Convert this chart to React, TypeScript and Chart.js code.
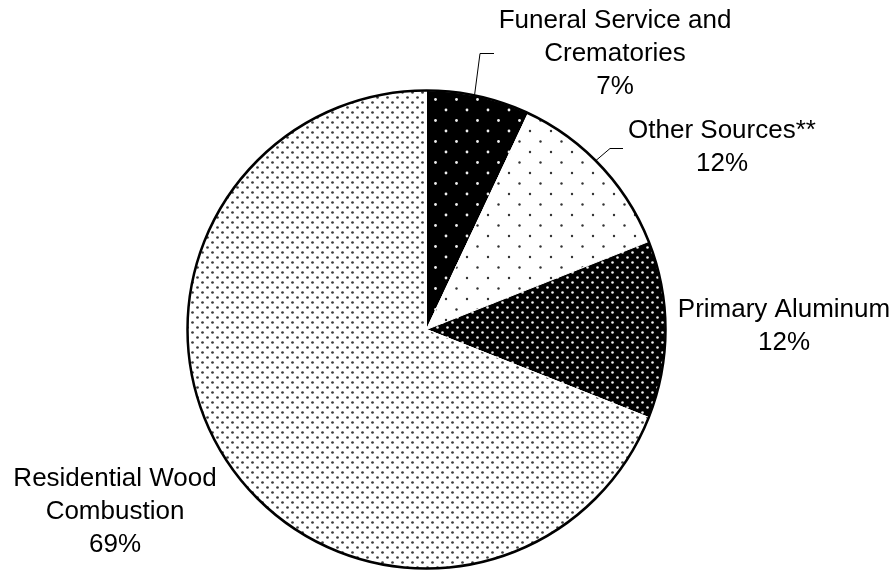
import React, { useEffect, useRef } from "react";
import { Chart, registerables } from "chart.js";

Chart.register(...registerables);

// ---- data ----
const categories = [
  "Funeral Service and Crematories",
  "Other Sources**",
  "Primary Aluminum",
  "Residential Wood Combustion",
];
const shares = [7, 12, 12, 69];
const labelLines = [
  ["Funeral Service and", "Crematories"],
  ["Other Sources**"],
  ["Primary Aluminum"],
  ["Residential Wood", "Combustion"],
];

// ---- label layout (annotation placement, not data) ----
const labelCenterX = [615, 722, 784, 115];
const labelFirstY = [21, 131, 310, 479];
const LINE_H = 33;
const FONT = "26px 'Liberation Sans', Arial, sans-serif";

function makePattern(
  size: number,
  bg: string,
  dot: string,
  r: number,
  pts: [number, number][]
): CanvasPattern | string {
  const c = document.createElement("canvas");
  c.width = size;
  c.height = size;
  const g = c.getContext("2d");
  if (!g) return bg;
  g.fillStyle = bg;
  g.fillRect(0, 0, size, size);
  g.fillStyle = dot;
  for (const [x, y] of pts) {
    g.beginPath();
    g.arc(x, y, r, 0, Math.PI * 2);
    g.fill();
  }
  const ctx = document.createElement("canvas").getContext("2d")!;
  return ctx.createPattern(c, "repeat") || bg;
}

const outlinePlugin = {
  id: "outline",
  afterDatasetsDraw(chart: any) {
    const meta = chart.getDatasetMeta(0);
    const a = meta.data[0];
    if (!a) return;
    const { x, y, outerRadius } = a.getProps(["x", "y", "outerRadius"], true);
    const ctx = chart.ctx;
    ctx.save();
    ctx.beginPath();
    ctx.arc(x, y, outerRadius, 0, Math.PI * 2);
    ctx.strokeStyle = "#000";
    ctx.lineWidth = 2.5;
    ctx.stroke();
    ctx.restore();
  },
};

const labelPlugin = {
  id: "pieLabels",
  afterDraw(chart: any) {
    const ctx = chart.ctx;
    const meta = chart.getDatasetMeta(0);
    ctx.save();
    // leader lines for the two upper labels
    ctx.strokeStyle = "#000";
    ctx.lineWidth = 1;
    const leaders: Record<number, [number, number][]> = {
      0: [[480, 53.5], [494, 53.5]],
      1: [[610, 148.5], [623, 148.5]],
    };
    Object.keys(leaders).forEach((k) => {
      const i = Number(k);
      const arc = meta.data[i];
      const p = arc.getProps(["x", "y", "outerRadius", "startAngle", "endAngle"], true);
      const ang = p.startAngle + (p.endAngle - p.startAngle) * 0.46;
      const sx = p.x + Math.cos(ang) * p.outerRadius;
      const sy = p.y + Math.sin(ang) * p.outerRadius;
      ctx.beginPath();
      ctx.moveTo(sx, sy);
      for (const [lx, ly] of leaders[i]) ctx.lineTo(lx, ly);
      ctx.stroke();
    });
    ctx.fillStyle = "#000";
    ctx.font = FONT;
    ctx.textAlign = "center";
    ctx.textBaseline = "middle";
    categories.forEach((_, i) => {
      const lines = [...labelLines[i], `${shares[i]}%`];
      lines.forEach((t, j) => {
        ctx.fillText(t, labelCenterX[i], labelFirstY[i] + j * LINE_H);
      });
    });
    ctx.restore();
  },
};

export default function App() {
  const ref = useRef<HTMLCanvasElement | null>(null);
  useEffect(() => {
    if (!ref.current) return;
    const colors = [
      makePattern(21, "#000", "#f0f0f0", 1.4, [[5, 5], [15.5, 15.5]]),
      makePattern(21, "#fff", "#333", 1.2, [[5, 5], [15.5, 15.5]]),
      makePattern(10, "#000", "#f0f0f0", 1.3, [[2.5, 2.5], [7.5, 7.5]]),
      makePattern(10, "#fff", "#3c3c3c", 1.35, [[2.5, 2.5], [7.5, 7.5]]),
    ];
    const chart = new Chart(ref.current, {
      type: "pie",
      data: {
        labels: categories,
        datasets: [
          {
            data: shares,
            backgroundColor: colors as any,
            borderColor: "#fff",
            borderWidth: 1,
            hoverOffset: 0,
          },
        ],
      },
      options: {
        responsive: false,
        animation: false,
        devicePixelRatio: 1,
        layout: { padding: { left: 187, right: 230, top: 90, bottom: 3 } },
        plugins: {
          legend: { display: false },
          tooltip: { enabled: false },
        },
      },
      plugins: [outlinePlugin, labelPlugin],
    });
    return () => chart.destroy();
  }, []);
  return (
    <div style={{ position: "absolute", left: 0, top: 0, width: 896, height: 572, background: "#fff" }}>
      <canvas ref={ref} width={896} height={572} style={{ display: "block" }} />
    </div>
  );
}
